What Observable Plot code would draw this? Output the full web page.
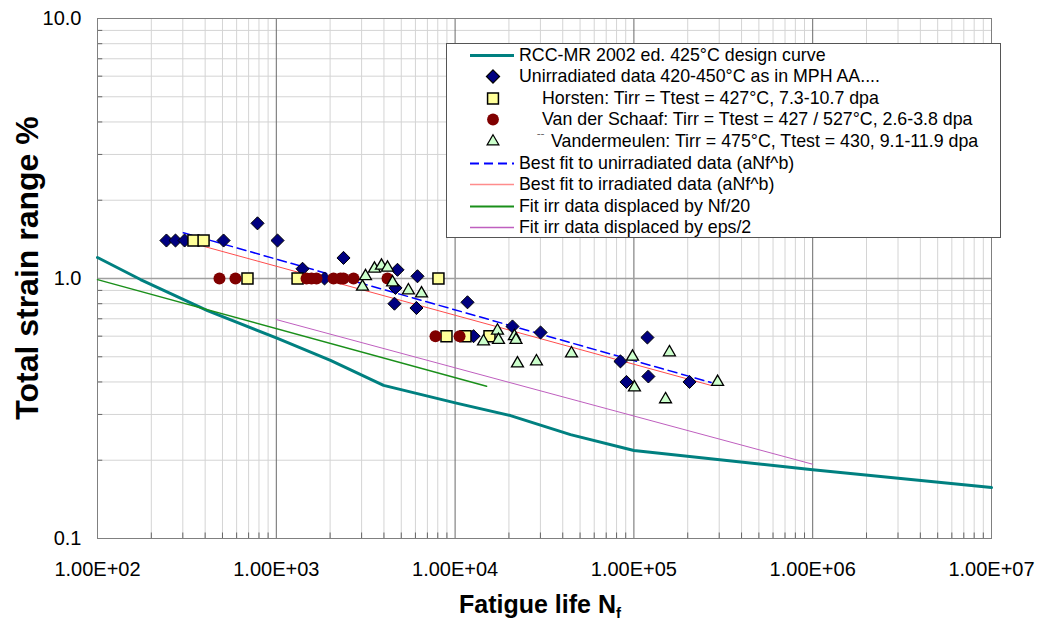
<!DOCTYPE html>
<html>
<head>
<meta charset="utf-8">
<script src="https://cdn.jsdelivr.net/npm/d3@7"></script>
<script src="https://cdn.jsdelivr.net/npm/@observablehq/plot@0.6"></script>
<style>
  html, body { margin: 0; padding: 0; background: #fff; }
  #wrap { position: relative; width: 1040px; height: 624px; font-family: "Liberation Sans", Arial, sans-serif; }
  #legend { position: absolute; left: 446px; top: 43px; width: 555px; height: 195px; box-sizing: border-box;
            border: 1px solid #555; background: #fff; }
  .row { position: absolute; left: 0; height: 22px; width: 100%; }
  .row svg { position: absolute; left: 0; top: 0; }
  .row span { position: absolute; top: 0px; font-size: 17.8px; line-height: 21px; color: #000; white-space: nowrap; }
</style>
</head>
<body>
<div id="wrap">
  <div id="chart"></div>
  <div id="legend"></div>
</div>
<script>
// ---------- Data ----------
const designN = [100, 174, 412, 1016, 2009, 3980, 10300, 20400, 44200, 100000, 1000000, 10000000];
const designE = [1.204, 0.991, 0.753, 0.588, 0.484, 0.388, 0.331, 0.297, 0.251, 0.218, 0.184, 0.157];

const unirrN = [243, 273, 307, 507, 785, 1016, 1402, 1861, 2376, 4762, 6160, 4640, 4580, 6080, 11730, 12680, 20940, 30060, 84100, 90900, 119000, 120500, 204700];
const unirrE = [1.40, 1.40, 1.40, 1.40, 1.63, 1.40, 1.09, 1.00, 1.20, 1.08, 1.02, 0.92, 0.80, 0.77, 0.81, 0.60, 0.654, 0.62, 0.48, 0.40, 0.593, 0.42, 0.40];

const horstenN = [344, 392, 690, 1315, 8070, 8950, 11430, 15570];
const horstenE = [1.40, 1.40, 1.00, 1.00, 1.00, 0.60, 0.60, 0.60];

const schaafN = [481, 591, 1476, 1574, 1678, 2089, 2286, 2376, 2704, 4188, 7770, 10590];
const schaafE = [1.00, 1.00, 1.00, 1.00, 1.00, 1.00, 1.00, 1.00, 1.00, 1.00, 0.60, 0.60];

const vdmN = [3034, 3155, 3540, 3875, 4188, 4467, 5480, 6490, 14420, 17260, 17490, 21460, 21900, 22330, 28510, 44770, 98200, 100700, 150300, 158000, 293800];
const vdmE = [0.93, 1.02, 1.09, 1.12, 1.10, 0.965, 0.90, 0.876, 0.573, 0.63, 0.58, 0.60, 0.58, 0.471, 0.48, 0.515, 0.50, 0.381, 0.343, 0.52, 0.40];

const fitUnirrN = [302, 270000];
const fitUnirrE = [1.50, 0.398];
const fitIrrN = [392, 270000];
const fitIrrE = [1.33, 0.388];
const fitNf20N = [100, 15000];
const fitNf20E = [0.99, 0.385];
const fitEps2N = [1000, 1000000];
const fitEps2E = [0.695, 0.193];

const xTicks = [1e2, 1e3, 1e4, 1e5, 1e6, 1e7];
const xTickLabels = ["1.00E+02", "1.00E+03", "1.00E+04", "1.00E+05", "1.00E+06", "1.00E+07"];
const yTicks = [0.1, 1, 10];
const yTickLabels = ["0.1", "1.0", "10.0"];

const legendLabels = [
  "RCC-MR 2002 ed. 425°C design curve",
  "Unirradiated data 420-450°C as in MPH AA....",
  "Horsten: Tirr = Ttest = 427°C, 7.3-10.7 dpa",
  "Van der Schaaf: Tirr = Ttest = 427 / 527°C, 2.6-3.8 dpa",
  "Vandermeulen: Tirr = 475°C, Ttest = 430, 9.1-11.9 dpa",
  "Best fit to unirradiated data (aNf^b)",
  "Best fit to irradiated data (aNf^b)",
  "Fit irr data displaced by Nf/20",
  "Fit irr data displaced by eps/2"
];

// ---------- helpers ----------
const rows = (xs, ys) => xs.map((x, i) => ({x, y: ys[i]}));
const minorX = [], minorY = [];
for (let k = 2; k < 7; k++) for (let m = 2; m <= 9; m++) minorX.push(m * Math.pow(10, k));
for (let k = -1; k < 1; k++) for (let m = 2; m <= 9; m++) minorY.push(+(m * Math.pow(10, k)).toPrecision(3));

const C = {
  design: "#008080", unirr: "#000080", horsten: "#ffff99", schaaf: "#800000", vdm: "#ccffcc",
  fitU: "#0000ff", fitI: "#ff4d4d", nf20: "#1a8f1a", eps2: "#bf5fbf"
};

const chart = Plot.plot({
  width: 1040, height: 624,
  marginLeft: 97, marginRight: 49, marginTop: 18, marginBottom: 86,
  style: {fontFamily: '"Liberation Sans", Arial, sans-serif', background: "#fff", color: "#000"},
  x: {type: "log", domain: [100, 1e7], label: null},
  y: {type: "log", domain: [0.1, 10], label: null},
  marks: [
    Plot.ruleX(minorX, {stroke: "#d4d4d4", strokeWidth: 1}),
    Plot.ruleY(minorY, {stroke: "#d4d4d4", strokeWidth: 1}),
    Plot.ruleX([1e3, 1e4, 1e5, 1e6], {stroke: "#6a6a6a", strokeWidth: 1}),
    Plot.ruleY([1], {stroke: "#a0a0a0", strokeWidth: 1.5}),
    Plot.ruleX(minorX, {y1: 0.1, y2: 0.105, stroke: "#666"}),
    Plot.ruleY(minorY, {x1: 100, x2: 107, stroke: "#666"}),
    Plot.frame({stroke: "#808080"}),
    Plot.axisX({ticks: xTicks, tickSize: 0, tickPadding: 23, fontSize: 20,
      tickFormat: d => xTickLabels[xTicks.indexOf(d)], label: null}),
    Plot.axisY({ticks: yTicks, tickSize: 0, tickPadding: 16, fontSize: 20,
      tickFormat: d => yTickLabels[yTicks.indexOf(d)], label: null}),
    Plot.line(rows(designN, designE), {x: "x", y: "y", stroke: C.design, strokeWidth: 3}),
    Plot.line(rows(fitNf20N, fitNf20E), {x: "x", y: "y", stroke: C.nf20, strokeWidth: 1.5}),
    Plot.line(rows(fitEps2N, fitEps2E), {x: "x", y: "y", stroke: C.eps2, strokeWidth: 1}),
    Plot.line(rows(fitIrrN, fitIrrE), {x: "x", y: "y", stroke: C.fitI, strokeWidth: 1}),
    Plot.line(rows(fitUnirrN, fitUnirrE), {x: "x", y: "y", stroke: C.fitU, strokeWidth: 1.5, strokeDasharray: "9,5"}),
    Plot.dot(rows(unirrN, unirrE), {x: "x", y: "y", symbol: "diamond2", r: 5.9, fill: C.unirr, stroke: "#000", strokeWidth: 1}),
    Plot.dot(rows(horstenN, horstenE), {x: "x", y: "y", symbol: "square2", r: 7, fill: C.horsten, stroke: "#000", strokeWidth: 1.5}),
    Plot.dot(rows(schaafN, schaafE), {x: "x", y: "y", symbol: "circle", r: 6, fill: C.schaaf, stroke: "none"}),
    Plot.dot(rows(vdmN, vdmE), {x: "x", y: "y", symbol: "triangle2", r: 5.7, fill: C.vdm, stroke: "#000", strokeWidth: 1.3})
  ]
});
document.getElementById("chart").appendChild(chart);

// axis titles
const svg = d3.select(chart);
svg.append("text")
  .attr("transform", "translate(38,268) rotate(-90)")
  .attr("text-anchor", "middle")
  .style("font-size", "32px").style("font-weight", "bold").attr("fill", "#000")
  .text("Total strain range %");
const xt = svg.append("text")
  .attr("x", 540).attr("y", 613)
  .attr("text-anchor", "middle")
  .style("font-size", "25px").style("font-weight", "bold").attr("fill", "#000");
xt.append("tspan").text("Fatigue life N");
xt.append("tspan").attr("dy", 5).style("font-size", "15px").text("f");

// legend
const lg = d3.select("#legend");
const textLeft = [72, 72, 95, 95, 104, 72, 72, 72, 72];
const kinds = ["line", "diamond", "square", "circle", "triangle", "dash", "line", "line", "line"];
const kindColor = [C.design, C.unirr, C.horsten, C.schaaf, C.vdm, C.fitU, "#ff8c8c", C.nf20, C.eps2];
const kindWidth = [3, 0, 0, 0, 0, 1.8, 1.6, 1.8, 1.3];
legendLabels.forEach((lab, i) => {
  const row = lg.append("div").attr("class", "row").style("top", (0.5 + i * 21.6) + "px");
  const s = row.append("svg").attr("width", 90).attr("height", 22);
  const k = kinds[i];
  if (k === "line" || k === "dash") {
    s.append("line").attr("x1", 23).attr("x2", 67).attr("y1", 10.5).attr("y2", 10.5)
      .attr("stroke", kindColor[i]).attr("stroke-width", kindWidth[i])
      .attr("stroke-dasharray", k === "dash" ? "9,5" : null);
  } else {
    const sym = {diamond: d3.symbolDiamond2, square: d3.symbolSquare2, circle: d3.symbolCircle, triangle: d3.symbolTriangle2}[k];
    const size = {diamond: 110, square: 150, circle: 110, triangle: 100}[k];
    s.append("path").attr("d", d3.symbol(sym, size)())
      .attr("transform", "translate(46,10.5)")
      .attr("fill", kindColor[i])
      .attr("stroke", k === "circle" ? "none" : "#000")
      .attr("stroke-width", k === "square" ? 1.5 : 1.2);
  }
  row.append("span").style("left", textLeft[i] + "px").text(lab);
  if (i === 4) row.append("span").style("left", "90px").style("top", "-3px").style("font-size", "11px").style("color", "#444").text("ˉˉ");
});
</script>
</body>
</html>
